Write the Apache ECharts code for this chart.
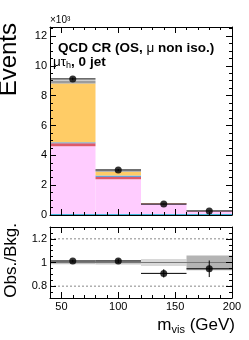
<!DOCTYPE html>
<html>
<head>
<meta charset="utf-8">
<script src="https://cdn.jsdelivr.net/npm/echarts@6/dist/echarts.min.js"></script>
<style>html,body{margin:0;padding:0;background:#fff;}#c{width:249px;height:340px;}</style>
</head>
<body>
<div id="c"></div>
<script>
// ---- data ----
const binLo = [40, 80, 120, 160];
const binHi = [80, 120, 160, 200];
const binCenter = [60, 100, 140, 180];
const bkgCyan = [0.07, 0.07, 0.06, 0.06];
const bkgPink = [4.54, 2.33, 0.68, 0.19];
const bkgRed = [0.2, 0.15, 0.025, 0.01];
const bkgBlue = [0.07, 0.1, 0.01, 0.005];
const bkgOrange = [3.93, 0.25, 0.015, 0.01];
const bkgGray = [0.2, 0.08, 0.01, 0.01];
const obs = [9.12, 3.02, 0.73, 0.27];
const obsErr = [0.095, 0.055, 0.027, 0.016];
const ratio = [1.013, 1.013, 0.908, 0.947];
const ratioErr = [0.011, 0.018, 0.035, 0.07];
const bandLo = [0.985, 0.983, 0.97, 0.935];
const bandHi = [1.015, 1.02, 1.03, 1.06];
const yTicksTop = [0, 2, 4, 6, 8, 10, 12];
const yTicksRatio = [0.8, 1, 1.2];
const xTicks = [50, 100, 150, 200];

// ---- styles ----
const FONT = '"Liberation Sans", Arial, Helvetica, sans-serif';
const compColors = ['#3cb4d8', '#ffccff', '#de5a6a', '#64a0dc', '#ffcc66', '#9c9c9c'];
const bandColors = ['#c4c4c4', '#c8c8c8', '#d8d8d8', '#b4b4b4'];

const comps = [bkgCyan, bkgPink, bkgRed, bkgBlue, bkgOrange, bkgGray];
const cum = binLo.map(() => 0);
const rectRender = function (params, api) {
  const p0 = api.coord([api.value(0), api.value(2)]);
  const p1 = api.coord([api.value(1), api.value(3)]);
  return {
    type: 'rect',
    shape: { x: p0[0], y: p1[1], width: p1[0] - p0[0], height: p0[1] - p1[1] },
    style: { fill: api.visual('color') }
  };
};
const series = [];
comps.forEach((arr, ci) => {
  const d = arr.map((v, i) => { const r = [binLo[i], binHi[i], cum[i], cum[i] + v]; cum[i] += v; return r; });
  series.push({
    type: 'custom', xAxisIndex: 0, yAxisIndex: 0, renderItem: rectRender,
    itemStyle: { color: compColors[ci] }, data: d, encode: { x: [0, 1], y: [2, 3] }, z: 2, silent: true
  });
});

const errRender = function (params, api) {
  const xl = api.value(0), xh = api.value(1), xc = api.value(2), y = api.value(3), e = api.value(4);
  const a = api.coord([xl, y]), b = api.coord([xh, y]);
  const c = api.coord([xc, y - e]), d = api.coord([xc, y + e]);
  return {
    type: 'group', children: [
      { type: 'line', shape: { x1: a[0], y1: a[1], x2: b[0], y2: b[1] }, style: { stroke: '#000', lineWidth: 1 } },
      { type: 'line', shape: { x1: c[0], y1: c[1], x2: d[0], y2: d[1] }, style: { stroke: '#000', lineWidth: 1 } }
    ]
  };
};
// top data errors and points
series.push({
  type: 'custom', xAxisIndex: 0, yAxisIndex: 0, renderItem: errRender, z: 5, silent: true,
  data: obs.map((v, i) => [binLo[i], binHi[i], binCenter[i], v, obsErr[i]]), encode: { x: [0, 1], y: 3 }
});
series.push({
  type: 'scatter', xAxisIndex: 0, yAxisIndex: 0, symbol: 'circle', symbolSize: 7, z: 6, silent: true,
  itemStyle: { color: '#000' }, data: obs.map((v, i) => [binCenter[i], v])
});

// ratio bands
series.push({
  type: 'custom', xAxisIndex: 4, yAxisIndex: 4, z: 2, silent: true,
  renderItem: function (params, api) {
    const p0 = api.coord([api.value(0), api.value(2)]);
    const p1 = api.coord([api.value(1), api.value(3)]);
    return { type: 'rect', shape: { x: p0[0], y: p1[1], width: p1[0] - p0[0], height: p0[1] - p1[1] },
      style: { fill: bandColors[params.dataIndex] } };
  },
  data: bandLo.map((v, i) => [binLo[i], binHi[i], v, bandHi[i]]), encode: { x: [0, 1], y: [2, 3] }
});
// reference lines
series.push({
  type: 'line', xAxisIndex: 4, yAxisIndex: 4, z: 3, silent: true, symbol: 'none',
  lineStyle: { color: '#777', width: 1 }, data: [[40, 1], [200, 1]]
});
[0.8, 1.2].forEach(v => series.push({
  type: 'line', xAxisIndex: 4, yAxisIndex: 4, z: 3, silent: true, symbol: 'none',
  lineStyle: { color: '#888', width: 1, type: [2, 2] }, data: [[40, v], [200, v]]
}));
series.push({
  type: 'custom', xAxisIndex: 4, yAxisIndex: 4, renderItem: errRender, z: 5, silent: true,
  data: ratio.map((v, i) => [binLo[i], binHi[i], binCenter[i], v, ratioErr[i]]), encode: { x: [0, 1], y: 3 }
});
series.push({
  type: 'scatter', xAxisIndex: 4, yAxisIndex: 4, symbol: 'circle', symbolSize: 7, z: 6, silent: true,
  itemStyle: { color: '#000' }, data: ratio.map((v, i) => [binCenter[i], v])
});

function xAx(grid, pos, major, labels) {
  const base = {
    gridIndex: grid, type: 'value', min: 40, max: 200, position: pos, z: 10,
    splitLine: { show: false }, axisPointer: { show: false }
  };
  if (major) {
    return Object.assign(base, {
      axisLine: { show: true, onZero: false, lineStyle: { color: '#000', width: 1 } },
      axisTick: { show: true, inside: true, length: 6, customValues: xTicks, lineStyle: { color: '#000' } },
      axisLabel: labels ? { show: true, customValues: xTicks, fontSize: 11, color: '#000', fontFamily: FONT, margin: 3 } : { show: false }
    });
  }
  return Object.assign(base, {
    interval: 10,
    axisLine: { show: false, onZero: false },
    axisTick: { show: true, inside: true, length: 3, lineStyle: { color: '#000' } },
    axisLabel: { show: false }
  });
}
function yAx(grid, pos, major, min, max, ticks, minorInt, labels) {
  const base = {
    gridIndex: grid, type: 'value', min: min, max: max, position: pos, z: 10,
    splitLine: { show: false }, axisPointer: { show: false }
  };
  if (major) {
    return Object.assign(base, {
      axisLine: { show: true, onZero: false, lineStyle: { color: '#000', width: 1 } },
      axisTick: { show: true, inside: true, length: 6, customValues: ticks, lineStyle: { color: '#000' } },
      axisLabel: labels ? { show: true, customValues: ticks, fontSize: 11, color: '#000', fontFamily: FONT, margin: 3 } : { show: false }
    });
  }
  return Object.assign(base, {
    interval: minorInt,
    axisLine: { show: false, onZero: false },
    axisTick: { show: true, inside: true, length: 3, lineStyle: { color: '#000' } },
    axisLabel: { show: false }
  });
}

const option = {
  animation: false,
  backgroundColor: '#fff',
  grid: [
    { left: 50, top: 27, width: 182, height: 188 },
    { left: 50, top: 227, width: 182, height: 71 }
  ],
  xAxis: [
    xAx(0, 'bottom', true, false), xAx(0, 'bottom', false), xAx(0, 'top', true, false), xAx(0, 'top', false),
    xAx(1, 'bottom', true, true), xAx(1, 'bottom', false), xAx(1, 'top', true, false), xAx(1, 'top', false)
  ],
  yAxis: [
    yAx(0, 'left', true, 0, 12.6, yTicksTop, 0.5, true), yAx(0, 'left', false, 0, 12.6, yTicksTop, 0.5),
    yAx(0, 'right', true, 0, 12.6, yTicksTop, 0.5, false), yAx(0, 'right', false, 0, 12.6, yTicksTop, 0.5),
    yAx(1, 'left', true, 0.7, 1.3, yTicksRatio, 0.05, true), yAx(1, 'left', false, 0.7, 1.3, yTicksRatio, 0.05),
    yAx(1, 'right', true, 0.7, 1.3, yTicksRatio, 0.05, false), yAx(1, 'right', false, 0.7, 1.3, yTicksRatio, 0.05)
  ],
  series: series,
  graphic: [
    { type: 'text', x: 50, y: 15, z: 20, style: { text: '×10³', font: '10px ' + FONT, fill: '#000', textVerticalAlign: 'top' } },
    { type: 'text', x: 58, y: 41, z: 20, style: {
      text: '{b|QCD CR (OS, }{r|μ}{b| non iso.)}', textVerticalAlign: 'top',
      rich: { b: { font: 'bold 13.5px ' + FONT, fill: '#000' }, r: { font: '13.5px ' + FONT, fill: '#000' } } } },
    { type: 'text', x: 53, y: 54, z: 20, style: {
      text: '{r|μτ}{s|h}{b|, 0 jet}', textVerticalAlign: 'top',
      rich: {
        b: { font: 'bold 13.5px ' + FONT, fill: '#000', lineHeight: 16, verticalAlign: 'middle' },
        r: { font: '13.5px ' + FONT, fill: '#000', lineHeight: 16, verticalAlign: 'middle' },
        s: { font: '9px ' + FONT, fill: '#000', lineHeight: 6, verticalAlign: 'bottom' }
      } } },
    { type: 'text', x: 9, y: 23, rotation: Math.PI / 2, z: 20, style: {
      text: 'Events', font: '24px ' + FONT, fill: '#000', textAlign: 'right', textVerticalAlign: 'middle' } },
    { type: 'text', x: 11, y: 223, rotation: Math.PI / 2, z: 20, style: {
      text: 'Obs./Bkg.', font: '17px ' + FONT, fill: '#000', textAlign: 'right', textVerticalAlign: 'middle' } },
    { type: 'text', x: 235, y: 315, z: 20, style: {
      text: '{m|m}{s|vis}{m| (GeV)}', textAlign: 'right', textVerticalAlign: 'top',
      rich: {
        m: { font: '17px ' + FONT, fill: '#000', lineHeight: 20, verticalAlign: 'middle' },
        s: { font: '11px ' + FONT, fill: '#000', lineHeight: 7, verticalAlign: 'bottom' }
      } } }
  ]
};
const chart = echarts.init(document.getElementById('c'), null, { renderer: 'canvas' });
chart.setOption(option);
</script>
</body>
</html>
